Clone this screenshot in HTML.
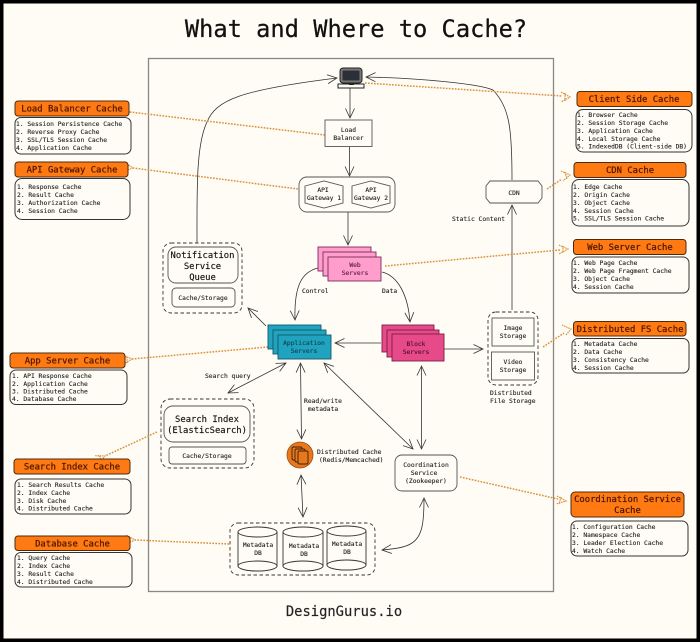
<!DOCTYPE html>
<html><head><meta charset="utf-8"><title>What and Where to Cache?</title>
<style>
html,body{margin:0;padding:0;background:#000;width:700px;height:642px;overflow:hidden}
svg{display:block;filter:blur(.3px)}
text{font-family:"DejaVu Sans Mono","Liberation Mono",monospace;fill:#222;font-size:6.3px;stroke:#222;stroke-width:.12}
.c{text-anchor:middle}
.h{font-size:8.9px;fill:#4f1800;stroke:#4f1800;stroke-width:.25;text-anchor:middle}
.m{font-size:8.85px;fill:#111;stroke:#111;stroke-width:.15;text-anchor:middle}
.hd{fill:#ff7a12;stroke:#4c2a0e;stroke-width:1}
.lb{fill:#fffcf5;stroke:#333;stroke-width:1}
.n{fill:#fffcf5;stroke:#555;stroke-width:.9}
.d{fill:none;stroke:#333;stroke-width:.9;stroke-dasharray:3.5 2.5}
.a{fill:none;stroke:#333;stroke-width:.8;marker-end:url(#ar)}
.b{fill:none;stroke:#333;stroke-width:.8;marker-end:url(#ar);marker-start:url(#ar)}
.o{fill:none;stroke:#d9923c;stroke-width:1.5;stroke-dasharray:1.7 1.3;marker-end:url(#or)}
</style></head><body>
<svg width="700" height="642" viewBox="0 0 700 642" xmlns="http://www.w3.org/2000/svg">
<defs>
<marker id="ar" markerUnits="userSpaceOnUse" markerWidth="14" markerHeight="14" refX="10" refY="6" orient="auto-start-reverse"><path d="M0.5,1.5 L10,6 L0.5,10.500" fill="none" stroke="#333" stroke-width=".8"/></marker>
<marker id="or" markerUnits="userSpaceOnUse" markerWidth="14" markerHeight="14" refX="1" refY="6" orient="auto"><path d="M10,1.500 L1,6 L10,10.500 M6,2.500 V9.500" fill="none" stroke="#d9923c" stroke-width="1.200" stroke-dasharray="1.500 .8"/></marker>
</defs>
<rect width="700" height="642" fill="#000"/>
<rect x="3.5" y="3.5" width="693" height="635" fill="#fffcf5"/>
<text x="356" y="37" class="c" style="font-size:23.7px;fill:#111;stroke:#111;stroke-width:.25">What and Where to Cache?</text>
<text x="344" y="616" class="c" style="font-size:13.8px;fill:#222;stroke:#222;stroke-width:.15">DesignGurus.io</text>
<rect x="148.500" y="58.500" width="405" height="533" fill="none" stroke="#888" stroke-width="1.300"/>

<!-- curved connectors -->
<path class="a" d="M197,243 C197,190 196,145 207,122 C216,100 240,90 337,78"/>
<path class="a" d="M512,180 C512,130 510,108 493,90 C480,84 420,78 366,77"/>
<path class="a" d="M350,88 V118"/>
<path class="a" d="M349.500,147 V176"/>
<path class="a" d="M348,212 V245"/>
<path class="a" d="M318,268 C302,272 294,285 295,320"/>
<path class="a" d="M382,272 C398,276 408,295 410,322"/>
<path class="a" d="M381,343 H335"/>
<path class="a" d="M444,349 H483"/>
<path class="a" d="M512,310 V205"/>
<path class="a" d="M266,326 L248,308"/>
<path class="b" d="M286,363 L228,393"/>
<path class="b" d="M300.500,363 L301.500,439"/>
<path class="b" d="M324,363 L413,449"/>
<path class="b" d="M421.500,366 V449"/>
<path class="b" d="M301,475 L303,517"/>
<path class="b" d="M424,498 C424,520 423,536 412,543 C405,548 392,549 382,550"/>

<!-- dotted connectors -->
<path class="o" d="M365,83 L562,96" style="marker-end:none"/>
<path class="o" d="M325,135 L130,112"/>
<path class="o" d="M298,189 L133,168"/>
<path class="o" d="M547,189 L562,179" style="marker-end:none"/>
<path class="o" d="M385,266 L560,250" style="marker-end:none"/>
<path class="o" d="M268,347 L132,359"/>
<path class="o" d="M157,432 L105,456"/>
<path class="o" d="M229,544 L135,540"/>
<path class="o" d="M543,347 L564,333" style="marker-end:none"/>
<path class="o" d="M460,477 L558,499" style="marker-end:none"/>
<path d="M561,92 L570,97 L561,102 M565,93 V101 M561,171 L570,175 L563,181 M565,172 L567,179 M559,245 L568,249 L559,254 M563,246 V253 M562,325 L571,329 L566,335 M557,496 L566,501 L556,504 M561,497 L559,504" fill="none" stroke="#d9923c" stroke-width="1.200" stroke-dasharray="1.500 .8"/>

<!-- monitor -->
<rect x="340" y="68" width="22" height="15" rx="3" fill="#777" stroke="#222" stroke-width="1"/>
<rect x="342.500" y="70.500" width="17" height="10" rx="1" fill="#2b3038"/>
<rect x="338" y="84" width="26" height="4" fill="#fffcf5" stroke="#222" stroke-width="1"/>
<rect x="349" y="83" width="5" height="2" fill="#222"/>

<!-- load balancer -->
<rect x="325" y="120" width="47" height="26.500" fill="#fffcf5" stroke="#666" stroke-width="1"/>
<text x="348.500" y="132" class="c">Load</text><text x="348.500" y="140" class="c">Balancer</text>

<!-- gateways -->
<rect x="299" y="177" width="96" height="35" rx="8" class="n"/>
<path class="n" d="M305,186 L324,181 L343,186 V203 L324,208 L305,203 Z"/>
<path class="n" d="M352,186 L371,181 L390,186 V203 L371,208 L352,203 Z"/>
<text x="323" y="192" class="c">API</text><text x="324" y="200" class="c">Gateway 1</text>
<text x="371" y="192" class="c">API</text><text x="371" y="200" class="c">Gateway 2</text>

<!-- web servers -->
<g fill="#ff9ecb" stroke="#7c2a60" stroke-width=".9">
<rect x="318" y="247" width="53" height="24"/><rect x="323" y="252" width="53" height="24"/><rect x="328" y="257" width="53" height="24"/></g>
<text x="355" y="267" class="c" style="fill:#5a1846;stroke:#5a1846">Web</text><text x="355" y="275" class="c" style="fill:#5a1846;stroke:#5a1846">Servers</text>
<text x="302" y="293">Control</text><text x="382" y="293">Data</text>

<!-- app servers -->
<g fill="#1fa3bf" stroke="#12586b" stroke-width=".9">
<rect x="268" y="325" width="53" height="24"/><rect x="273" y="330" width="53" height="24"/><rect x="278" y="335" width="53" height="24"/></g>
<text x="304" y="345" class="c" style="fill:#123f4e;stroke:#123f4e">Application</text><text x="304" y="353" class="c" style="fill:#123f4e;stroke:#123f4e">Servers</text>

<!-- block servers -->
<g fill="#e64a88" stroke="#7a1c48" stroke-width=".9">
<rect x="382" y="325" width="52" height="27"/><rect x="387" y="330" width="52" height="27"/><rect x="392" y="334" width="52" height="27"/></g>
<text x="416" y="346" class="c" style="fill:#4f0f2c;stroke:#4f0f2c">Block</text><text x="416" y="354" class="c" style="fill:#4f0f2c;stroke:#4f0f2c">Servers</text>

<!-- storage -->
<rect x="488" y="312" width="50" height="73" rx="8" class="d" style="fill:#fffcf5"/>
<rect x="492" y="318" width="42" height="28" class="n"/>
<rect x="491.500" y="352" width="43" height="28" class="n"/>
<text x="513" y="330" class="c">Image</text><text x="513" y="338" class="c">Storage</text>
<text x="513" y="364" class="c">Video</text><text x="513" y="372" class="c">Storage</text>
<text x="490" y="395">Distributed</text><text x="490" y="403">File Storage</text>

<!-- CDN -->
<path class="n" d="M490,181 H538 L542,186 V198 L538,203 H490 L486,198 V186 Z"/>
<text x="514" y="195" class="c">CDN</text>
<text x="452" y="221">Static Content</text>

<!-- notification -->
<rect x="163" y="243" width="79" height="70" rx="8" class="d" style="fill:#fffcf5"/>
<rect x="168" y="247" width="70" height="36" rx="8" class="n"/>
<text x="202.500" y="258" class="m">Notification</text><text x="202.500" y="269" class="m">Service</text><text x="202.500" y="280" class="m">Queue</text>
<rect x="172" y="288" width="63" height="19" rx="4" class="n"/>
<text x="203" y="300" class="c">Cache/Storage</text>

<!-- search -->
<rect x="161" y="399" width="93" height="69" rx="9" class="d" style="fill:#fffcf5"/>
<rect x="164" y="406" width="86" height="36" rx="9" class="n"/>
<text x="207" y="422" class="m">Search Index</text><text x="207" y="433" class="m">(ElasticSearch)</text>
<rect x="169" y="447" width="77" height="17" rx="3" class="n"/>
<text x="207" y="458" class="c">Cache/Storage</text>
<text x="205" y="378">Search query</text>
<text x="323" y="403" class="c">Read/write</text><text x="323" y="411" class="c">metadata</text>

<!-- dist cache -->
<circle cx="300" cy="455" r="13" fill="#e8781e" stroke="#9c4d10" stroke-width=".8"/>
<g fill="#e8781e" stroke="#3a2208" stroke-width=".9">
<rect x="292" y="447" width="10" height="13" rx="1.500"/><rect x="295" y="449" width="10" height="13" rx="1.500"/><rect x="298" y="451" width="10" height="13" rx="1.500"/></g>
<text x="317" y="454">Distributed Cache</text><text x="319" y="462">(Redis/Memcached)</text>

<!-- coordination -->
<rect x="395" y="455" width="62" height="36" rx="7" class="n"/>
<text x="426" y="467" class="c">Coordination</text><text x="424" y="475" class="c">Service</text><text x="426" y="483" class="c">(Zookeeper)</text>

<!-- DB -->
<rect x="230" y="523" width="145" height="52" rx="8" class="d" style="fill:#fffcf5"/>
<g fill="#fffcf5" stroke="#333" stroke-width=".9">
<path d="M238,532 V566 A19.500,5 0 0 0 277,566 V532"/><ellipse cx="257.500" cy="532" rx="19.500" ry="5"/><ellipse cx="257.500" cy="566" rx="19.500" ry="5"/>
<path d="M283,532 V566 A20,5 0 0 0 323,566 V532"/><ellipse cx="303" cy="532" rx="20" ry="5"/><ellipse cx="303" cy="566" rx="20" ry="5"/>
<path d="M327,531 V565 A19.500,5 0 0 0 366,565 V531"/><ellipse cx="346.500" cy="531" rx="19.500" ry="5"/><ellipse cx="346.500" cy="565" rx="19.500" ry="5"/>
</g>
<text x="258" y="547" class="c">Metadata</text><text x="258" y="555" class="c">DB</text>
<text x="304" y="548" class="c">Metadata</text><text x="304" y="556" class="c">DB</text>
<text x="347" y="546" class="c">Metadata</text><text x="347" y="554" class="c">DB</text>

<!-- left cards -->
<rect x="15" y="101" width="114" height="15" rx="3" class="hd"/><text x="72" y="111.500" class="h">Load Balancer Cache</text>
<rect x="15" y="117.500" width="116" height="36.500" rx="6" class="lb"/>
<text x="16" y="126">1. Session Persistence Cache</text><text x="16" y="134">2. Reverse Proxy Cache</text><text x="16" y="142">3. SSL/TLS Session Cache</text><text x="16" y="150">4. Application Cache</text>

<rect x="15" y="162" width="113" height="15" rx="3" class="hd"/><text x="72" y="172.500" class="h">API Gateway Cache</text>
<rect x="15" y="178.500" width="115" height="41" rx="7" class="lb"/>
<text x="17" y="189">1. Response Cache</text><text x="17" y="197">2. Result Cache</text><text x="17" y="205">3. Authorization Cache</text><text x="17" y="213">4. Session Cache</text>

<rect x="10" y="353" width="115" height="15" rx="3" class="hd"/><text x="67.500" y="363.500" class="h">App Server Cache</text>
<rect x="10" y="370" width="117" height="34.500" rx="6" class="lb"/>
<text x="12" y="378">1. API Response Cache</text><text x="12" y="386">2. Application Cache</text><text x="12" y="393.500">3. Distributed Cache</text><text x="12" y="401">4. Database Cache</text>

<rect x="14" y="459" width="116" height="15" rx="3" class="hd"/><text x="72" y="469.500" class="h">Search Index Cache</text>
<rect x="15" y="479" width="116" height="35" rx="6" class="lb"/>
<text x="17" y="487">1. Search Results Cache</text><text x="17" y="495">2. Index Cache</text><text x="17" y="503">3. Disk Cache</text><text x="17" y="510.500">4. Distributed Cache</text>

<rect x="15" y="536" width="115" height="14.500" rx="3" class="hd"/><text x="72.500" y="546.500" class="h">Database Cache</text>
<rect x="15" y="552.500" width="117" height="34.500" rx="6" class="lb"/>
<text x="17" y="560">1. Query Cache</text><text x="17" y="568">2. Index Cache</text><text x="17" y="576">3. Result Cache</text><text x="17" y="584">4. Distributed Cache</text>

<!-- right cards -->
<rect x="577" y="91.500" width="115" height="15" rx="3" class="hd"/><text x="634" y="102" class="h">Client Side Cache</text>
<rect x="576" y="109.500" width="116" height="42.500" rx="7" class="lb"/>
<text x="577" y="117">1. Browser Cache</text><text x="577" y="125">2. Session Storage Cache</text><text x="577" y="133">3. Application Cache</text><text x="577" y="141">4. Local Storage Cache</text><text x="577" y="148.500">5. IndexedDB (Client-side DB)</text>

<rect x="574" y="162.500" width="112" height="15" rx="3" class="hd"/><text x="630" y="173" class="h">CDN Cache</text>
<rect x="572" y="179.500" width="117" height="46.500" rx="7" class="lb"/>
<text x="573" y="189">1. Edge Cache</text><text x="573" y="197">2. Origin Cache</text><text x="573" y="205">3. Object Cache</text><text x="573" y="213">4. Session Cache</text><text x="573" y="220.500">5. SSL/TLS Session Cache</text>

<rect x="573.500" y="239.500" width="112.500" height="15" rx="3" class="hd"/><text x="630" y="250" class="h">Web Server Cache</text>
<rect x="572" y="257" width="117" height="36" rx="6" class="lb"/>
<text x="573" y="265">1. Web Page Cache</text><text x="573" y="273">2. Web Page Fragment Cache</text><text x="573" y="281">3. Object Cache</text><text x="573" y="289">4. Session Cache</text>

<rect x="573.500" y="321.500" width="112.500" height="14.500" rx="3" class="hd"/><text x="630" y="332" class="h">Distributed FS Cache</text>
<rect x="572" y="338.500" width="117" height="34.500" rx="6" class="lb"/>
<text x="573" y="346">1. Metadata Cache</text><text x="573" y="354">2. Data Cache</text><text x="573" y="362">3. Consistency Cache</text><text x="573" y="370">4. Session Cache</text>

<rect x="571" y="492" width="113" height="25" rx="4" class="hd"/><text x="627.500" y="502" class="h">Coordination Service</text><text x="627.500" y="513" class="h">Cache</text>
<rect x="571" y="521" width="117" height="35" rx="6" class="lb"/>
<text x="572" y="529">1. Configuration Cache</text><text x="572" y="537">2. Namespace Cache</text><text x="572" y="545">3. Leader Election Cache</text><text x="572" y="553">4. Watch Cache</text>
</svg>
</body></html>
